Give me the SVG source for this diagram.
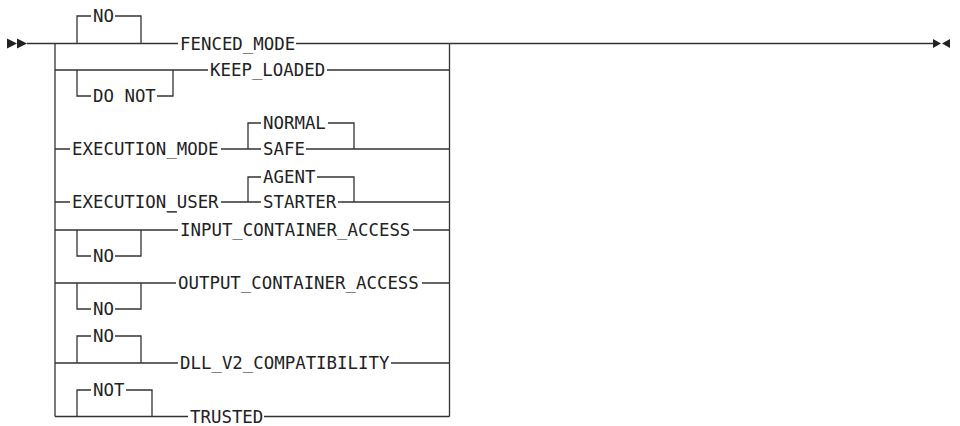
<svg xmlns="http://www.w3.org/2000/svg" width="960" height="426" viewBox="0 0 960 426">
<style>
  .ln { fill: none; stroke: #333; stroke-width: 1.3; }
  .ah { fill: #222; stroke: none; }
  text { font-family: "DejaVu Sans Mono", "Liberation Mono", monospace; font-size: 17.4px; fill: #222; }
</style>
<rect width="960" height="426" fill="#fff"/>
<g id="connectors">
  <polygon class="ah" points="7,38.5 17,43.5 7,48.5"/>
  <polygon class="ah" points="17,38.5 27,43.5 17,48.5"/>
  <polygon class="ah" points="933,39 941,43.5 933,48"/>
  <polygon class="ah" points="950,39 942,43.5 950,48"/>
  <path class="ln" d="M27,43.5 H55 M449.5,43.5 H933"/>
  <path class="ln" d="M55,43.5 V416.5 M449.5,43.5 V416.5"/>
  <!-- FENCED_MODE -->
  <path class="ln" d="M55,43.5 H178 M296,43.5 H449.5"/>
  <path class="ln" d="M77,43.5 V16 H91 M115,16 H141 V43.5"/>
  <!-- KEEP_LOADED -->
  <path class="ln" d="M55,70 H208 M327,70 H449.5"/>
  <path class="ln" d="M77,70 V96 H91 M157,96 H173 V70"/>
  <!-- EXECUTION_MODE -->
  <path class="ln" d="M55,149 H70 M221,149 H261 M306,149 H449.5"/>
  <path class="ln" d="M248,149 V123 H261 M328,123 H354 V149"/>
  <!-- EXECUTION_USER -->
  <path class="ln" d="M55,202 H70 M221,202 H261 M338,202 H449.5"/>
  <path class="ln" d="M248,202 V177 H261 M317,177 H354 V202"/>
  <path class="ln" d="M167,212 H177"/>
  <!-- INPUT_CONTAINER_ACCESS -->
  <path class="ln" d="M55,230 H178 M413,230 H449.5"/>
  <path class="ln" d="M77,230 V256 H91 M115,256 H141 V230"/>
  <!-- OUTPUT_CONTAINER_ACCESS -->
  <path class="ln" d="M55,283 H176 M422,283 H449.5"/>
  <path class="ln" d="M77,283 V309 H91 M115,309 H141 V283"/>
  <!-- DLL_V2_COMPATIBILITY -->
  <path class="ln" d="M55,363 H178 M391,363 H449.5"/>
  <path class="ln" d="M77,363 V336 H91 M115,336 H141 V363"/>
  <!-- TRUSTED -->
  <path class="ln" d="M55,416.5 H188 M264,416.5 H449.5"/>
  <path class="ln" d="M77,416.5 V390 H91 M126,390 H152 V416.5"/>
</g>
<g id="fenced_mode"><text x="93" y="22.3">NO</text><text x="180" y="49.8">FENCED_MODE</text></g>
<g id="keep_loaded"><text x="93" y="102.3">DO NOT</text><text x="210" y="76.3">KEEP_LOADED</text></g>
<g id="execution_mode"><text x="72" y="155.3">EXECUTION_MODE</text><text x="263" y="129.3">NORMAL</text><text x="263" y="155.3">SAFE</text></g>
<g id="execution_user"><text x="72" y="208.3">EXECUTION_USER</text><text x="263" y="183.3">AGENT</text><text x="263" y="208.3">STARTER</text></g>
<g id="input_container_access"><text x="93" y="262.3">NO</text><text x="180" y="236.3">INPUT_CONTAINER_ACCESS</text></g>
<g id="output_container_access"><text x="93" y="315.3">NO</text><text x="178" y="289.3">OUTPUT_CONTAINER_ACCESS</text></g>
<g id="dll_v2_compatibility"><text x="93" y="342.3">NO</text><text x="180" y="369.3">DLL_V2_COMPATIBILITY</text></g>
<g id="trusted"><text x="93" y="396.3">NOT</text><text x="190" y="422.8">TRUSTED</text></g>
</svg>
